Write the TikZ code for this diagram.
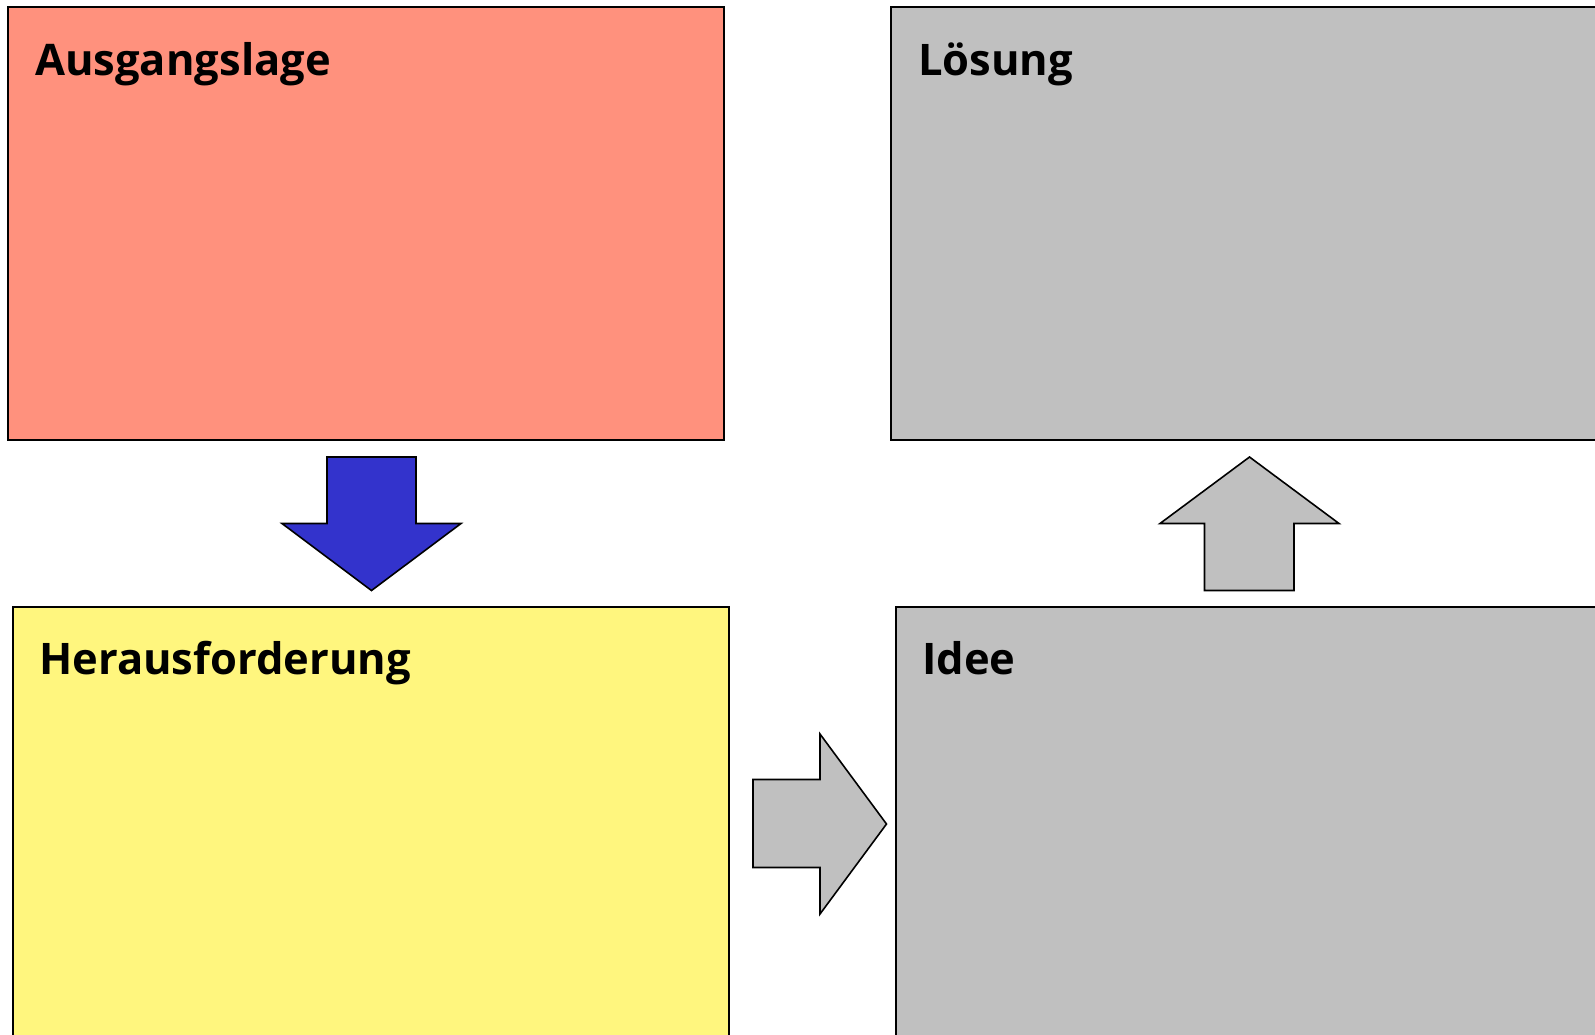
\documentclass[tikz,border=0pt]{standalone}
\usepackage{fontspec}
\setmainfont{Open Sans}
\definecolor{salmon}{HTML}{FF917D}
\definecolor{paleyellow}{HTML}{FFF67E}
\definecolor{greybox}{HTML}{C0C0C0}
\definecolor{arrowblue}{HTML}{3333CC}
\begin{document}
\begin{tikzpicture}[x=1pt,y=-1pt,
  box/.style={draw=black,line width=2pt,anchor=north west,inner sep=0pt,outer sep=0pt},
  title/.style={anchor=base west,inner sep=0pt,font=\fontsize{43.5}{50}\selectfont\bfseries},
  bigarrow/.style={draw=black,line width=1.6pt,line join=miter}]
\useasboundingbox (0,0) rectangle (1595,1034);
\clip (0,0) rectangle (1595,1034);
\node[box,fill=salmon,minimum width=716pt,minimum height=433pt] (ausgang) at (8,7) {};
\node[box,fill=greybox,minimum width=760pt,minimum height=433pt] (loesung) at (891,7) {};
\node[box,fill=paleyellow,minimum width=716pt,minimum height=480pt] (heraus) at (13,607) {};
\node[box,fill=greybox,minimum width=760pt,minimum height=480pt] (idee) at (896,607) {};
\node[title] (t1) at (35,75) {Ausgangslage};
\node[title] (t2) at (918,75) {Lösung};
\node[title] (t3) at (39,674) {Herausforderung};
\node[title] (t4) at (922,674) {Idee};
% down arrow
\draw[bigarrow,fill=arrowblue] (327,457) -- (416,457) -- (416,523.5) -- (461,523.5) -- (371.5,590.5) -- (282,523.5) -- (327,523.5) -- cycle;
% up arrow
\draw[bigarrow,fill=greybox] (1249.5,457) -- (1339,523.5) -- (1294,523.5) -- (1294,590.5) -- (1204.5,590.5) -- (1204.5,523.5) -- (1160,523.5) -- cycle;
% right arrow
\draw[bigarrow,fill=greybox] (753,779.5) -- (820,779.5) -- (820,734) -- (886.5,824) -- (820,914) -- (820,867.5) -- (753,867.5) -- cycle;
\end{tikzpicture}
\end{document}
